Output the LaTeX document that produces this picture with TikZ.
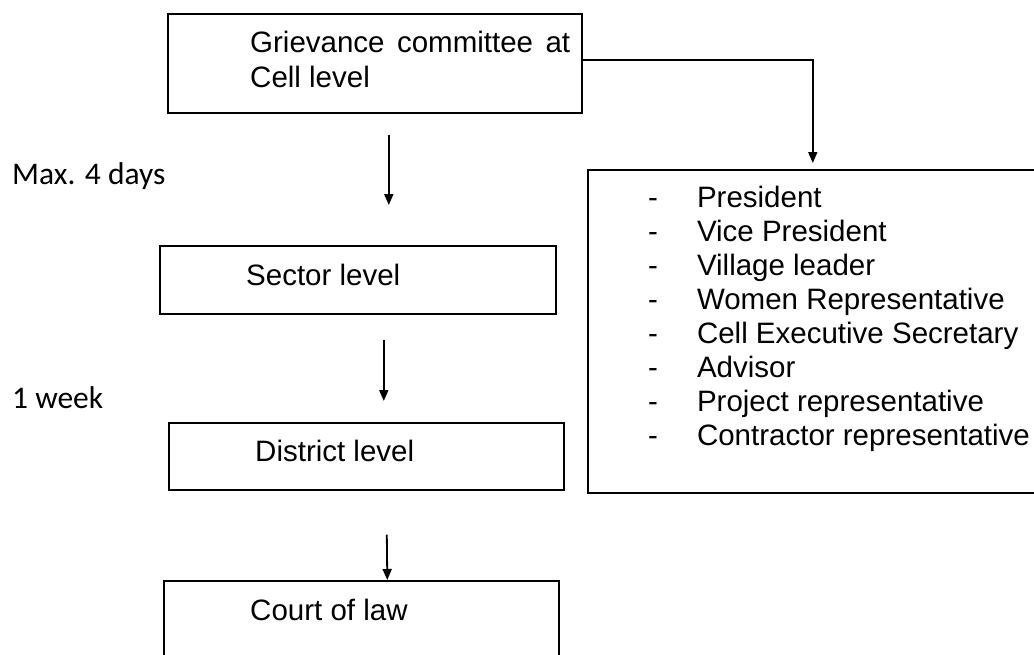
\documentclass[tikz,border=0pt]{standalone}
\usepackage{fontspec}
\setmainfont{Liberation Sans}
\newfontfamily\calib{Carlito}
\usetikzlibrary{arrows.meta}
\begin{document}
\begin{tikzpicture}[x=1pt,y=-1pt,
  box/.style={draw=black,line width=1.6pt,anchor=north west,inner sep=0pt},
  txt/.style={anchor=base west,inner sep=0pt,font=\fontsize{29.5}{34}\selectfont},
  lbl/.style={anchor=base west,inner sep=0pt,font=\calib\fontsize{31.5}{38}\selectfont},
  arr/.style={line width=1.8pt,-{Triangle[length=11pt,width=9pt]}}]
\useasboundingbox (0,0) rectangle (1034,654);
\clip (0,0) rectangle (1034,654);
% boxes
\node[box,minimum width=414pt,minimum height=99pt] (top) at (167,13) {};
\node[box,minimum width=396pt,minimum height=68pt] (sector) at (159,245) {};
\node[box,minimum width=395pt,minimum height=67pt] (district) at (168,422) {};
\node[box,minimum width=395pt,minimum height=110pt] (court) at (163,580) {};
\node[box,minimum width=460pt,minimum height=323pt] (rbox) at (587,169) {};
% texts
\node[txt] (g1) at (250,52) {\makebox[320pt][s]{Grievance committee at}};
\node[txt] (g2) at (250,87) {Cell level};
\node[txt] (st) at (246,285.5) {Sector level};
\node[txt] (dt) at (255,461) {District level};
\node[txt] (ct) at (250,620.5) {Court of law};
\node[anchor=north west,inner sep=0pt,font=\fontsize{29.5}{34}\selectfont] (list) at (648,183.7) {%
\renewcommand\arraystretch{1}%
\begin{tabular}{@{}l@{\hspace{39pt}}l@{}}
- & President\\
- & Vice President\\
- & Village leader\\
- & Women Representative\\
- & Cell Executive Secretary\\
- & Advisor\\
- & Project representative\\
- & Contractor representative
\end{tabular}};
\node[lbl] (l1) at (12,184) {Max. 4 days};
\node[lbl] (l2) at (12,408) {1 week};
% connectors
\draw[arr] ([xshift=14pt,yshift=-21pt]top.south) -- ([xshift=31pt,yshift=40pt]sector.north);
\draw[arr] ([xshift=26pt,yshift=-25pt]sector.south) -- ([xshift=17.5pt,yshift=21pt]district.north);
\draw[arr] ([xshift=20.5pt,yshift=-44pt]district.south) -- ([xshift=26pt,yshift=0pt]court.north);
\draw[arr] ([yshift=3pt]top.east) -| ([xshift=-5pt,yshift=6pt]rbox.north);
\end{tikzpicture}
\end{document}
